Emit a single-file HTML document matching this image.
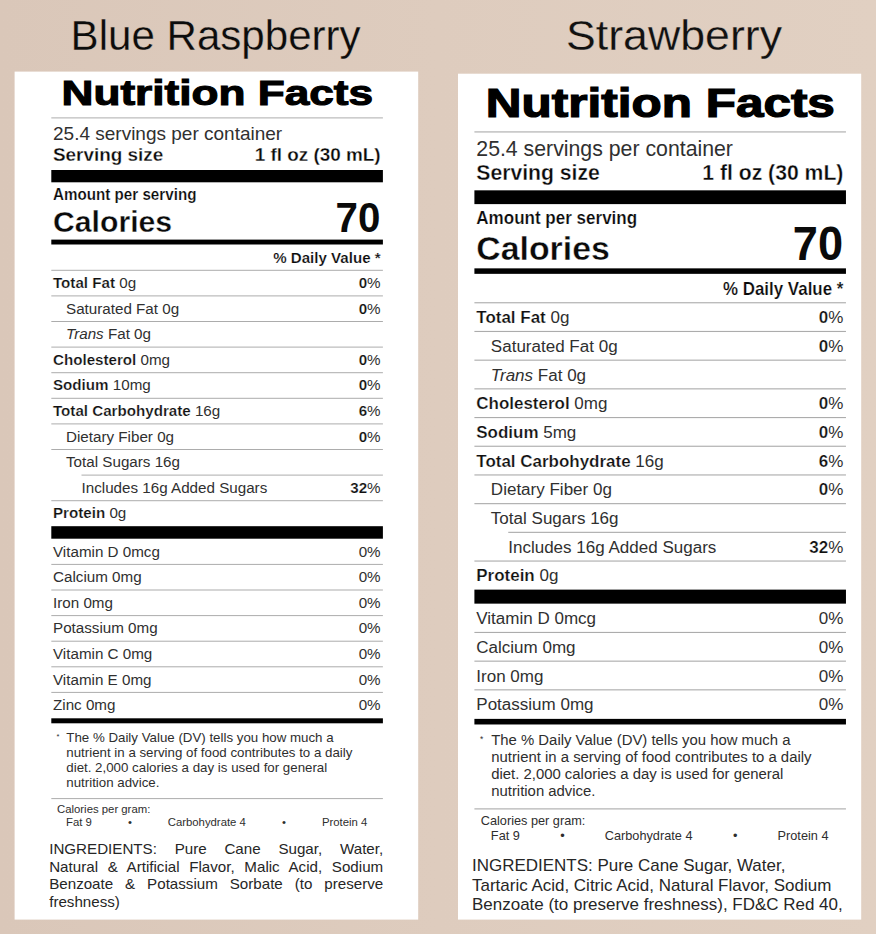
<!DOCTYPE html>
<html><head><meta charset="utf-8"><title>Nutrition Facts</title>
<style>
html,body{margin:0;padding:0;}
body{width:876px;height:934px;overflow:hidden;background:#dccabc;font-family:"Liberation Sans", sans-serif;}
svg{display:block;font-family:"Liberation Sans", sans-serif;}
svg text{font-family:"Liberation Sans", sans-serif;}
</style></head><body>
<svg width="876" height="934" viewBox="0 0 876 934">
<defs><linearGradient id="bg" x1="0" y1="0" x2="1" y2="0">
<stop offset="0" stop-color="#dac7b9"/><stop offset="0.5" stop-color="#deccbe"/><stop offset="1" stop-color="#e1d0c2"/></linearGradient></defs>
<rect width="876" height="934" fill="url(#bg)"/>
<rect x="14.6" y="71.6" width="403.6" height="848" fill="#fff"/>
<rect x="458" y="73.7" width="403.2" height="845.9" fill="#fff"/>
<text x="215.6" y="50" font-size="42" text-anchor="middle" fill="#0c0c0c" stroke="#dac7b9" stroke-width="0.3" textLength="290" lengthAdjust="spacingAndGlyphs">Blue Raspberry</text>
<text x="674" y="50" font-size="42" text-anchor="middle" fill="#111" stroke="#dfcdbf" stroke-width="0.3" textLength="216" lengthAdjust="spacingAndGlyphs">Strawberry</text>
<g>
<text x="217.30" y="104.5" font-size="35.6" font-weight="700" text-anchor="middle" fill="#000" stroke="#000" stroke-width="1.1" textLength="311.5" lengthAdjust="spacingAndGlyphs">Nutrition Facts</text>
<rect x="51.30" y="117.40" width="331.60" height="1.00" fill="#acacac"/>
<text x="53.00" y="139.60" font-size="19.0" fill="#303030">25.4 servings per container</text>
<text transform="translate(53.00 161.10) scale(0.98 1)" font-size="19.29" font-weight="700" stroke="#fff" stroke-width="0.30" fill="#0a0a0a">Serving size</text>
<text transform="translate(380.60 161.10) scale(0.98 1)" font-size="19.29" font-weight="700" stroke="#fff" stroke-width="0.30" text-anchor="end" fill="#0a0a0a">1 fl oz (30 mL)</text>
<rect x="51.30" y="170.00" width="331.60" height="12.30" fill="#000"/>
<text transform="translate(53.00 200.40) scale(0.97 1)" font-size="15.67" font-weight="700" stroke="#fff" stroke-width="0.20" fill="#0a0a0a">Amount per serving</text>
<text x="53.00" y="231.80" font-size="30.2" font-weight="700" stroke="#fff" stroke-width="0.35" fill="#0a0a0a">Calories</text>
<text transform="translate(380.30 232.00) scale(0.955 1)" font-size="42.20" font-weight="700" text-anchor="end" fill="#0a0a0a">70</text>
<rect x="51.30" y="239.60" width="331.60" height="4.90" fill="#000"/>
<text transform="translate(380.60 263.00) scale(0.97 1)" font-size="15.57" font-weight="700" stroke="#fff" stroke-width="0.20" text-anchor="end" fill="#0a0a0a">% Daily Value *</text>
<rect x="51.30" y="269.80" width="331.60" height="1.00" fill="#acacac"/>
<text x="53.00" y="288.00" font-size="15.2" fill="#303030"><tspan font-weight="700" font-size="15.15" fill="#101010" stroke="#fff" stroke-width="0.22">Total Fat</tspan> 0g</text>
<text x="380.60" y="288.00" font-size="15.2" text-anchor="end" fill="#303030"><tspan font-weight="700" font-size="15.15" fill="#101010" stroke="#fff" stroke-width="0.22">0</tspan>%</text>
<rect x="51.30" y="295.40" width="331.60" height="1.00" fill="#acacac"/>
<text x="66.00" y="313.60" font-size="15.2" fill="#303030">Saturated Fat 0g</text>
<text x="380.60" y="313.60" font-size="15.2" text-anchor="end" fill="#303030"><tspan font-weight="700" font-size="15.15" fill="#101010" stroke="#fff" stroke-width="0.22">0</tspan>%</text>
<rect x="51.30" y="321.00" width="331.60" height="1.00" fill="#acacac"/>
<text x="66.00" y="339.20" font-size="15.2" fill="#303030"><tspan font-style="italic">Trans</tspan> Fat 0g</text>
<rect x="51.30" y="346.60" width="331.60" height="1.00" fill="#acacac"/>
<text x="53.00" y="364.80" font-size="15.2" fill="#303030"><tspan font-weight="700" font-size="15.15" fill="#101010" stroke="#fff" stroke-width="0.22">Cholesterol</tspan> 0mg</text>
<text x="380.60" y="364.80" font-size="15.2" text-anchor="end" fill="#303030"><tspan font-weight="700" font-size="15.15" fill="#101010" stroke="#fff" stroke-width="0.22">0</tspan>%</text>
<rect x="51.30" y="372.20" width="331.60" height="1.00" fill="#acacac"/>
<text x="53.00" y="390.40" font-size="15.2" fill="#303030"><tspan font-weight="700" font-size="15.15" fill="#101010" stroke="#fff" stroke-width="0.22">Sodium</tspan> 10mg</text>
<text x="380.60" y="390.40" font-size="15.2" text-anchor="end" fill="#303030"><tspan font-weight="700" font-size="15.15" fill="#101010" stroke="#fff" stroke-width="0.22">0</tspan>%</text>
<rect x="51.30" y="397.80" width="331.60" height="1.00" fill="#acacac"/>
<text x="53.00" y="416.00" font-size="15.2" fill="#303030"><tspan font-weight="700" font-size="15.15" fill="#101010" stroke="#fff" stroke-width="0.22">Total Carbohydrate</tspan> 16g</text>
<text x="380.60" y="416.00" font-size="15.2" text-anchor="end" fill="#303030"><tspan font-weight="700" font-size="15.15" fill="#101010" stroke="#fff" stroke-width="0.22">6</tspan>%</text>
<rect x="51.30" y="423.40" width="331.60" height="1.00" fill="#acacac"/>
<text x="66.00" y="441.60" font-size="15.2" fill="#303030">Dietary Fiber 0g</text>
<text x="380.60" y="441.60" font-size="15.2" text-anchor="end" fill="#303030"><tspan font-weight="700" font-size="15.15" fill="#101010" stroke="#fff" stroke-width="0.22">0</tspan>%</text>
<rect x="51.30" y="449.00" width="331.60" height="1.00" fill="#acacac"/>
<text x="66.00" y="467.20" font-size="15.2" fill="#303030">Total Sugars 16g</text>
<rect x="81.50" y="474.60" width="301.40" height="1.00" fill="#acacac"/>
<text x="81.50" y="492.80" font-size="15.2" fill="#303030">Includes 16g Added Sugars</text>
<text x="380.60" y="492.80" font-size="15.2" text-anchor="end" fill="#303030"><tspan font-weight="700" font-size="15.15" fill="#101010" stroke="#fff" stroke-width="0.22">32</tspan>%</text>
<rect x="51.30" y="500.20" width="331.60" height="1.00" fill="#acacac"/>
<text x="53.00" y="518.40" font-size="15.2" fill="#303030"><tspan font-weight="700" font-size="15.15" fill="#101010" stroke="#fff" stroke-width="0.22">Protein</tspan> 0g</text>
<rect x="51.30" y="526.20" width="331.60" height="12.50" fill="#000"/>
<text x="53.00" y="556.60" font-size="15.2" fill="#303030">Vitamin D 0mcg</text>
<text x="380.60" y="556.60" font-size="15.2" text-anchor="end" fill="#303030">0%</text>
<rect x="51.30" y="563.90" width="331.60" height="1.00" fill="#acacac"/>
<text x="53.00" y="582.20" font-size="15.2" fill="#303030">Calcium 0mg</text>
<text x="380.60" y="582.20" font-size="15.2" text-anchor="end" fill="#303030">0%</text>
<rect x="51.30" y="589.50" width="331.60" height="1.00" fill="#acacac"/>
<text x="53.00" y="607.80" font-size="15.2" fill="#303030">Iron 0mg</text>
<text x="380.60" y="607.80" font-size="15.2" text-anchor="end" fill="#303030">0%</text>
<rect x="51.30" y="615.10" width="331.60" height="1.00" fill="#acacac"/>
<text x="53.00" y="633.40" font-size="15.2" fill="#303030">Potassium 0mg</text>
<text x="380.60" y="633.40" font-size="15.2" text-anchor="end" fill="#303030">0%</text>
<rect x="51.30" y="640.70" width="331.60" height="1.00" fill="#acacac"/>
<text x="53.00" y="659.00" font-size="15.2" fill="#303030">Vitamin C 0mg</text>
<text x="380.60" y="659.00" font-size="15.2" text-anchor="end" fill="#303030">0%</text>
<rect x="51.30" y="666.30" width="331.60" height="1.00" fill="#acacac"/>
<text x="53.00" y="684.60" font-size="15.2" fill="#303030">Vitamin E 0mg</text>
<text x="380.60" y="684.60" font-size="15.2" text-anchor="end" fill="#303030">0%</text>
<rect x="51.30" y="691.90" width="331.60" height="1.00" fill="#acacac"/>
<text x="53.00" y="710.20" font-size="15.2" fill="#303030">Zinc 0mg</text>
<text x="380.60" y="710.20" font-size="15.2" text-anchor="end" fill="#303030">0%</text>
<rect x="51.30" y="718.30" width="331.60" height="5.00" fill="#000"/>
<text x="56.40" y="738.60" font-size="7.6" fill="#2e2e2e">*</text>
<text x="66.30" y="741.80" font-size="13.3" fill="#2e2e2e">The % Daily Value (DV) tells you how much a</text>
<text x="66.30" y="757.00" font-size="13.3" fill="#2e2e2e">nutrient in a serving of food contributes to a daily</text>
<text x="66.30" y="772.20" font-size="13.3" fill="#2e2e2e">diet. 2,000 calories a day is used for general</text>
<text x="66.30" y="787.40" font-size="13.3" fill="#2e2e2e">nutrition advice.</text>
<rect x="51.30" y="798.10" width="331.60" height="1.00" fill="#acacac"/>
<text x="57.00" y="813.30" font-size="11.35" fill="#2e2e2e">Calories per gram:</text>
<text x="66.00" y="826.10" font-size="11.35" fill="#2e2e2e">Fat 9</text>
<text x="130.00" y="826.10" font-size="11.35" text-anchor="middle" fill="#2e2e2e">•</text>
<text x="206.80" y="826.10" font-size="11.35" text-anchor="middle" fill="#2e2e2e">Carbohydrate 4</text>
<text x="284.00" y="826.10" font-size="11.35" text-anchor="middle" fill="#2e2e2e">•</text>
<text x="367.30" y="826.10" font-size="11.35" text-anchor="end" fill="#2e2e2e">Protein 4</text>
<text x="49.2" y="854.00" font-size="15.15" fill="#262626" word-spacing="13.586">INGREDIENTS: Pure Cane Sugar, Water,</text>
<text x="49.2" y="871.50" font-size="15.15" fill="#262626" word-spacing="5.458">Natural &amp; Artificial Flavor, Malic Acid, Sodium</text>
<text x="49.2" y="889.00" font-size="15.15" fill="#262626" word-spacing="7.719">Benzoate &amp; Potassium Sorbate (to preserve</text>
<text x="49.2" y="906.50" font-size="15.15" fill="#262626">freshness)</text>
</g>
<clipPath id="cr"><rect x="458" y="73.7" width="403.2" height="845.9"/></clipPath>
<g clip-path="url(#cr)"><g transform="translate(416.918 -0.241) scale(1.1205 1.121)">
<text x="217.30" y="104.5" font-size="35.6" font-weight="700" text-anchor="middle" fill="#000" stroke="#000" stroke-width="1.1" textLength="311.5" lengthAdjust="spacingAndGlyphs">Nutrition Facts</text>
<rect x="51.30" y="117.40" width="331.60" height="1.00" fill="#acacac"/>
<text x="53.00" y="139.60" font-size="19.0" fill="#303030">25.4 servings per container</text>
<text transform="translate(53.00 161.10) scale(0.98 1)" font-size="19.29" font-weight="700" stroke="#fff" stroke-width="0.30" fill="#0a0a0a">Serving size</text>
<text transform="translate(380.60 161.10) scale(0.98 1)" font-size="19.29" font-weight="700" stroke="#fff" stroke-width="0.30" text-anchor="end" fill="#0a0a0a">1 fl oz (30 mL)</text>
<rect x="51.30" y="170.00" width="331.60" height="12.30" fill="#000"/>
<text transform="translate(53.00 200.40) scale(0.97 1)" font-size="15.67" font-weight="700" stroke="#fff" stroke-width="0.20" fill="#0a0a0a">Amount per serving</text>
<text x="53.00" y="231.80" font-size="30.2" font-weight="700" stroke="#fff" stroke-width="0.35" fill="#0a0a0a">Calories</text>
<text transform="translate(380.30 232.00) scale(0.955 1)" font-size="42.20" font-weight="700" text-anchor="end" fill="#0a0a0a">70</text>
<rect x="51.30" y="239.60" width="331.60" height="4.90" fill="#000"/>
<text transform="translate(380.60 263.00) scale(0.97 1)" font-size="15.57" font-weight="700" stroke="#fff" stroke-width="0.20" text-anchor="end" fill="#0a0a0a">% Daily Value *</text>
<rect x="51.30" y="269.80" width="331.60" height="1.00" fill="#acacac"/>
<text x="53.00" y="288.45" font-size="15.2" fill="#303030"><tspan font-weight="700" font-size="15.15" fill="#101010" stroke="#fff" stroke-width="0.22">Total Fat</tspan> 0g</text>
<text x="380.60" y="288.45" font-size="15.2" text-anchor="end" fill="#303030"><tspan font-weight="700" font-size="15.15" fill="#101010" stroke="#fff" stroke-width="0.22">0</tspan>%</text>
<rect x="51.30" y="295.40" width="331.60" height="1.00" fill="#acacac"/>
<text x="66.00" y="314.05" font-size="15.2" fill="#303030">Saturated Fat 0g</text>
<text x="380.60" y="314.05" font-size="15.2" text-anchor="end" fill="#303030"><tspan font-weight="700" font-size="15.15" fill="#101010" stroke="#fff" stroke-width="0.22">0</tspan>%</text>
<rect x="51.30" y="321.00" width="331.60" height="1.00" fill="#acacac"/>
<text x="66.00" y="339.65" font-size="15.2" fill="#303030"><tspan font-style="italic">Trans</tspan> Fat 0g</text>
<rect x="51.30" y="346.60" width="331.60" height="1.00" fill="#acacac"/>
<text x="53.00" y="365.25" font-size="15.2" fill="#303030"><tspan font-weight="700" font-size="15.15" fill="#101010" stroke="#fff" stroke-width="0.22">Cholesterol</tspan> 0mg</text>
<text x="380.60" y="365.25" font-size="15.2" text-anchor="end" fill="#303030"><tspan font-weight="700" font-size="15.15" fill="#101010" stroke="#fff" stroke-width="0.22">0</tspan>%</text>
<rect x="51.30" y="372.20" width="331.60" height="1.00" fill="#acacac"/>
<text x="53.00" y="390.85" font-size="15.2" fill="#303030"><tspan font-weight="700" font-size="15.15" fill="#101010" stroke="#fff" stroke-width="0.22">Sodium</tspan> 5mg</text>
<text x="380.60" y="390.85" font-size="15.2" text-anchor="end" fill="#303030"><tspan font-weight="700" font-size="15.15" fill="#101010" stroke="#fff" stroke-width="0.22">0</tspan>%</text>
<rect x="51.30" y="397.80" width="331.60" height="1.00" fill="#acacac"/>
<text x="53.00" y="416.45" font-size="15.2" fill="#303030"><tspan font-weight="700" font-size="15.15" fill="#101010" stroke="#fff" stroke-width="0.22">Total Carbohydrate</tspan> 16g</text>
<text x="380.60" y="416.45" font-size="15.2" text-anchor="end" fill="#303030"><tspan font-weight="700" font-size="15.15" fill="#101010" stroke="#fff" stroke-width="0.22">6</tspan>%</text>
<rect x="51.30" y="423.40" width="331.60" height="1.00" fill="#acacac"/>
<text x="66.00" y="442.05" font-size="15.2" fill="#303030">Dietary Fiber 0g</text>
<text x="380.60" y="442.05" font-size="15.2" text-anchor="end" fill="#303030"><tspan font-weight="700" font-size="15.15" fill="#101010" stroke="#fff" stroke-width="0.22">0</tspan>%</text>
<rect x="51.30" y="449.00" width="331.60" height="1.00" fill="#acacac"/>
<text x="66.00" y="467.65" font-size="15.2" fill="#303030">Total Sugars 16g</text>
<rect x="81.50" y="474.60" width="301.40" height="1.00" fill="#acacac"/>
<text x="81.50" y="493.25" font-size="15.2" fill="#303030">Includes 16g Added Sugars</text>
<text x="380.60" y="493.25" font-size="15.2" text-anchor="end" fill="#303030"><tspan font-weight="700" font-size="15.15" fill="#101010" stroke="#fff" stroke-width="0.22">32</tspan>%</text>
<rect x="51.30" y="500.20" width="331.60" height="1.00" fill="#acacac"/>
<text x="53.00" y="518.85" font-size="15.2" fill="#303030"><tspan font-weight="700" font-size="15.15" fill="#101010" stroke="#fff" stroke-width="0.22">Protein</tspan> 0g</text>
<rect x="51.30" y="526.20" width="331.60" height="12.50" fill="#000"/>
<text x="53.00" y="557.05" font-size="15.2" fill="#303030">Vitamin D 0mcg</text>
<text x="380.60" y="557.05" font-size="15.2" text-anchor="end" fill="#303030">0%</text>
<rect x="51.30" y="563.90" width="331.60" height="1.00" fill="#acacac"/>
<text x="53.00" y="582.65" font-size="15.2" fill="#303030">Calcium 0mg</text>
<text x="380.60" y="582.65" font-size="15.2" text-anchor="end" fill="#303030">0%</text>
<rect x="51.30" y="589.50" width="331.60" height="1.00" fill="#acacac"/>
<text x="53.00" y="608.25" font-size="15.2" fill="#303030">Iron 0mg</text>
<text x="380.60" y="608.25" font-size="15.2" text-anchor="end" fill="#303030">0%</text>
<rect x="51.30" y="615.10" width="331.60" height="1.00" fill="#acacac"/>
<text x="53.00" y="633.85" font-size="15.2" fill="#303030">Potassium 0mg</text>
<text x="380.60" y="633.85" font-size="15.2" text-anchor="end" fill="#303030">0%</text>
<rect x="51.30" y="641.50" width="331.60" height="5.00" fill="#000"/>
<text x="56.40" y="661.80" font-size="7.6" fill="#2e2e2e">*</text>
<text x="66.30" y="665.00" font-size="13.3" fill="#2e2e2e">The % Daily Value (DV) tells you how much a</text>
<text x="66.30" y="680.20" font-size="13.3" fill="#2e2e2e">nutrient in a serving of food contributes to a daily</text>
<text x="66.30" y="695.40" font-size="13.3" fill="#2e2e2e">diet. 2,000 calories a day is used for general</text>
<text x="66.30" y="710.60" font-size="13.3" fill="#2e2e2e">nutrition advice.</text>
<rect x="51.30" y="721.30" width="331.60" height="1.00" fill="#acacac"/>
<text x="57.00" y="736.50" font-size="11.35" fill="#2e2e2e">Calories per gram:</text>
<text x="66.00" y="749.30" font-size="11.35" fill="#2e2e2e">Fat 9</text>
<text x="130.00" y="749.30" font-size="11.35" text-anchor="middle" fill="#2e2e2e">•</text>
<text x="206.80" y="749.30" font-size="11.35" text-anchor="middle" fill="#2e2e2e">Carbohydrate 4</text>
<text x="284.00" y="749.30" font-size="11.35" text-anchor="middle" fill="#2e2e2e">•</text>
<text x="367.30" y="749.30" font-size="11.35" text-anchor="end" fill="#2e2e2e">Protein 4</text>
<text x="49.2" y="777.20" font-size="15.15" fill="#262626">INGREDIENTS: Pure Cane Sugar, Water,</text>
<text x="49.2" y="794.70" font-size="15.15" fill="#262626">Tartaric Acid, Citric Acid, Natural Flavor, Sodium</text>
<text x="49.2" y="812.20" font-size="15.15" fill="#262626">Benzoate (to preserve freshness), FD&amp;C Red 40,</text>
</g></g>
</svg>
</body></html>
